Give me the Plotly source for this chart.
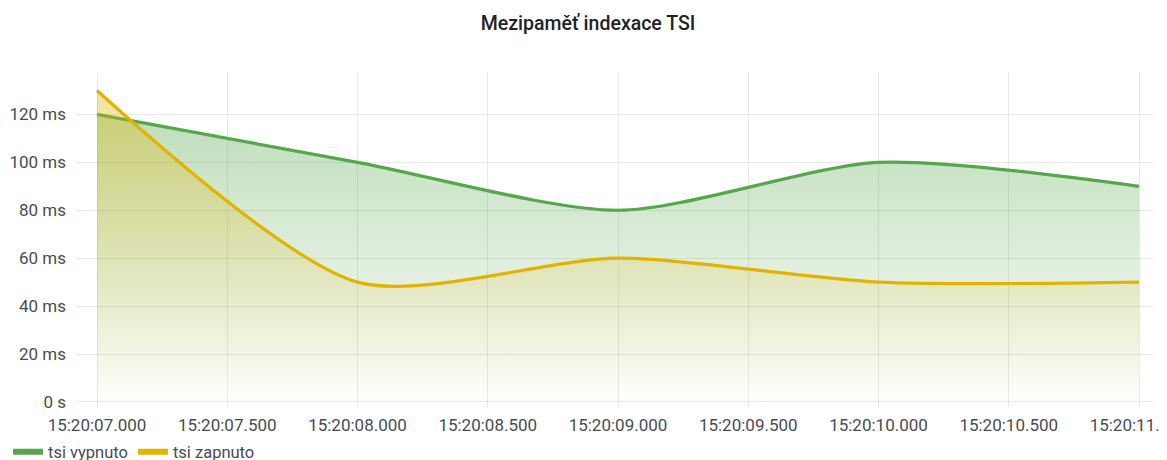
import plotly.graph_objects as go
import pandas as pd

# ---- data ----
times = ["2021-06-01 15:20:07", "2021-06-01 15:20:08", "2021-06-01 15:20:09",
         "2021-06-01 15:20:10", "2021-06-01 15:20:11"]
tsi_vypnuto = [120, 100, 80, 100, 90]   # ms
tsi_zapnuto = [130, 50, 60, 50, 50]     # ms
series_names = ["tsi vypnuto", "tsi zapnuto"]
y_tickvals = [0, 20, 40, 60, 80, 100, 120]
y_ticktext = ["0 s", "20 ms", "40 ms", "60 ms", "80 ms", "100 ms", "120 ms"]
title_text = "Mezipaměť indexace TSI"

GREEN = "#56a64b"
YELLOW = "#e0b400"
GRID = "rgba(0,0,0,0.09)"
TEXT = "#464c54"
FONT = "Roboto"

W, H = 1167, 460
OFF = 8  # page body margin
ml, mr, mt, mb = 76 - OFF, 14 + OFF, 72 - OFF, 53 + OFF
plot_w = W - ml - mr
plot_h = H - mt - mb
pad_l_px, pad_r_px = 21, 14

t = pd.to_datetime(times)
t0, t1 = t.min(), t.max()
span = (t1 - t0).total_seconds()
px_per_s = (plot_w - pad_l_px - pad_r_px) / span
x_range = [t0 - pd.Timedelta(seconds=pad_l_px / px_per_s),
           t1 + pd.Timedelta(seconds=pad_r_px / px_per_s)]


def rgba(hexc, a):
    h = hexc.lstrip("#")
    r, g, b = int(h[0:2], 16), int(h[2:4], 16), int(h[4:6], 16)
    return f"rgba({r},{g},{b},{a})"


fig = go.Figure()
for vals, color, name in [(tsi_vypnuto, GREEN, series_names[0]),
                          (tsi_zapnuto, YELLOW, series_names[1])]:
    fig.add_trace(go.Scatter(
        x=t, y=vals, mode="lines", name=name, showlegend=False,
        line=dict(color=color, width=3.2, shape="spline", smoothing=0.75),
        fill="tozeroy",
        fillgradient=dict(type="vertical", start=0, stop=max(vals),
                          colorscale=[[0, rgba(color, 0.0)], [1, rgba(color, 0.38)]]),
        hoverinfo="skip",
    ))
# legend entries
for color, name in [(GREEN, series_names[0]), (YELLOW, series_names[1])]:
    fig.add_trace(go.Scatter(x=[None], y=[None], mode="lines", name=name,
                             line=dict(color=color, width=6)))

legend_y = -((452 - OFF) - (H - mb)) / plot_h
legend_x = ((8 - OFF) - ml) / plot_w

fig.update_layout(
    width=W, height=H,
    margin=dict(l=ml, r=mr, t=mt, b=mb, autoexpand=False),
    paper_bgcolor="white", plot_bgcolor="white",
    font=dict(family=FONT, size=17, color=TEXT),
    title=dict(text=title_text, x=(588 - OFF) / W, xanchor="center",
               y=1 - (23 - OFF) / H, yanchor="middle",
               font=dict(family=FONT, size=19.5, color="#202226", weight=500)),
    showlegend=True,
    legend=dict(orientation="h", x=legend_x, xanchor="left", y=legend_y, yanchor="middle",
                font=dict(size=16.5, color=TEXT), itemwidth=30,
                bgcolor="rgba(0,0,0,0)", tracegroupgap=0),
    xaxis=dict(type="date", range=x_range, tick0=t0, dtick=500,
               tickformat="%H:%M:%S.%L", showgrid=True, gridcolor=GRID,
               zeroline=False, showline=False, ticks="", ticklabelstandoff=6,
               ticklabeloverflow="allow", fixedrange=True),
    yaxis=dict(range=[-2.1, 137.7], tickvals=y_tickvals, ticktext=y_ticktext,
               showgrid=True, gridcolor=GRID, zeroline=False, showline=False,
               ticks="", ticklabelstandoff=9, fixedrange=True),
)

fig.write_html("out.html")
